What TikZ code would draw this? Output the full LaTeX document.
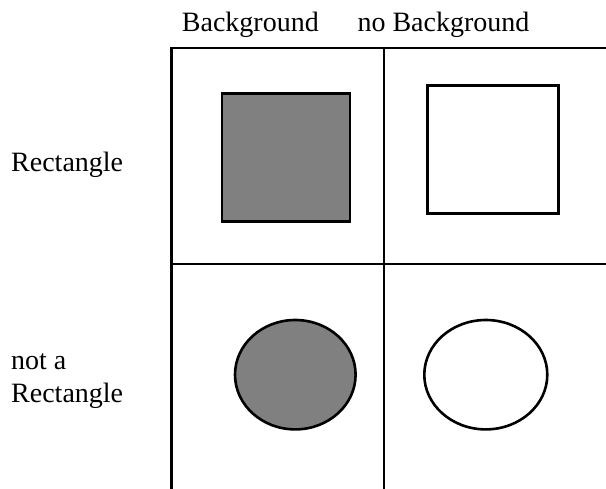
\documentclass[tikz,border=0pt]{standalone}
\usepackage{fontspec}
\setmainfont{Liberation Serif}
\begin{document}
\begin{tikzpicture}[x=1pt,y=-1pt,
  gridline/.style={line width=2.6pt},
  shapeline/.style={line width=2.6pt},
  lbl/.style={anchor=base west,inner sep=0pt,font=\fontsize{28}{32.7}\selectfont},
  filled/.style={fill={rgb,255:red,128;green,128;blue,128}}]
\useasboundingbox (0,0) rectangle (606,489);
% grid
\draw[gridline] (606,48) -- (171.5,48) -- (171.5,489);
\draw[gridline] (384,48) -- (384,489);
\draw[gridline] (171.5,264) -- (606,264);
% shapes
\draw[shapeline,filled] (222,93.3) rectangle (350,221.3);
\draw[shapeline] (427.3,85.3) rectangle (558.3,213.3);
\draw[shapeline,filled] (295.3,374.7) ellipse [x radius=60.3,y radius=54.7];
\draw[shapeline] (485.8,374.7) ellipse [x radius=61.5,y radius=54.7];
% labels
\node[lbl] (bg) at (181.7,31.7) {Background};
\node[lbl] (nobg) at (357.3,31.7) {no Background};
\node[lbl] (rect) at (11,171.7) {Rectangle};
\node[lbl,align=left] (notrect) at (11,370) {not a};
\node[lbl] (notrect2) at (11,402.7) {Rectangle};
\end{tikzpicture}
\end{document}
